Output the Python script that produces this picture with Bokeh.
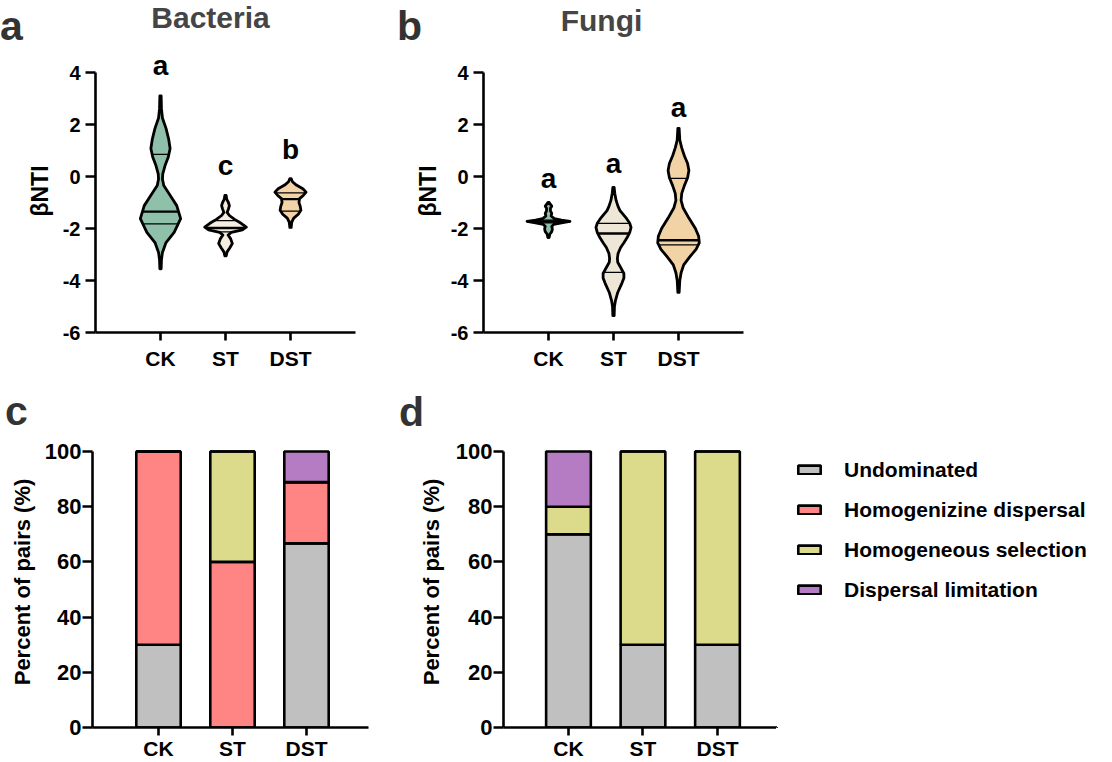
import numpy as np
from bokeh.plotting import figure
from bokeh.models import FixedTicker, Legend, LegendItem, ColumnDataSource, Range1d
from bokeh.layouts import column, row
from bokeh.embed import file_html
from bokeh.resources import INLINE
from bokeh.core.properties import value

FONT = "Liberation Sans"

# ---------------- data ----------------
groups = ["CK", "ST", "DST"]
group_x = [1, 2, 3]

# violin outlines: y levels (βNTI) and half-widths
bac_ck_y = [3.1, 2.6, 2.25, 1.85, 1.45, 1.08, 0.75, 0.42, 0.1, -0.1, -0.35, -0.73, -1.12, -1.62, -2.15, -2.54, -2.92, -3.2, -3.55]
bac_ck_w = [0.01, 0.015, 0.03, 0.085, 0.125, 0.148, 0.12, 0.07, 0.035, 0.03, 0.05, 0.15, 0.25, 0.31, 0.21, 0.085, 0.03, 0.015, 0.01]
bac_st_y = [-0.73, -0.88, -1.0, -1.12, -1.25, -1.38, -1.5, -1.65, -1.8, -1.95, -2.05, -2.15, -2.25, -2.4, -2.58, -2.75, -2.9, -3.05]
bac_st_w = [0.01, 0.02, 0.045, 0.06, 0.045, 0.025, 0.06, 0.14, 0.24, 0.32, 0.26, 0.09, 0.04, 0.08, 0.105, 0.065, 0.025, 0.01]
bac_dst_y = [-0.08, -0.2, -0.33, -0.47, -0.6, -0.72, -0.85, -1.0, -1.15, -1.3, -1.45, -1.6, -1.75, -1.96]
bac_dst_w = [0.01, 0.03, 0.09, 0.19, 0.24, 0.2, 0.14, 0.13, 0.15, 0.16, 0.12, 0.05, 0.02, 0.01]
fun_ck_y = [-1.0, -1.07, -1.14, -1.22, -1.32, -1.42, -1.52, -1.62, -1.68, -1.73, -1.78, -1.84, -1.92, -2.02, -2.12, -2.22, -2.35]
fun_ck_w = [0.01, 0.03, 0.05, 0.03, 0.03, 0.05, 0.04, 0.09, 0.2, 0.33, 0.2, 0.08, 0.05, 0.06, 0.05, 0.02, 0.01]
fun_st_y = [-0.42, -0.65, -0.92, -1.15, -1.31, -1.58, -1.8, -1.96, -2.15, -2.35, -2.55, -2.73, -2.96, -3.15, -3.3, -3.5, -3.73, -3.9, -4.1, -4.46, -4.77, -5.0, -5.35]
fun_st_w = [0.01, 0.02, 0.04, 0.07, 0.1, 0.19, 0.25, 0.27, 0.25, 0.21, 0.16, 0.11, 0.07, 0.06, 0.065, 0.11, 0.16, 0.16, 0.13, 0.065, 0.03, 0.015, 0.01]
fun_dst_y = [1.85, 1.4, 1.1, 0.8, 0.5, 0.23, -0.05, -0.35, -0.65, -0.92, -1.2, -1.6, -2.0, -2.3, -2.55, -2.8, -3.1, -3.4, -3.7, -4.0, -4.46]
fun_dst_w = [0.01, 0.02, 0.05, 0.09, 0.14, 0.16, 0.14, 0.09, 0.05, 0.04, 0.07, 0.16, 0.26, 0.31, 0.32, 0.27, 0.17, 0.08, 0.04, 0.02, 0.01]

# quartile lines: upper quartile, median, lower quartile
bac_ck_q = [0.85, -1.35, -1.82]
bac_st_q = [-1.70, -1.98, -2.13]
bac_dst_q = [-0.63, -0.87, -1.33]
fun_ck_q = [-1.68, -1.73, -1.78]
fun_st_q = [-1.80, -2.19, -3.69]
fun_dst_q = [-0.07, -2.45, -2.63]

# significance letters (baseline heights in βNTI units)
bac_sig = ["a", "c", "b"]
fun_sig = ["a", "a", "a"]
bac_sig_y = [3.9, 0.04, 0.69]
fun_sig_y = [-0.46, 0.12, 2.27]

# stacked bars (percent of pairs)
bar_names = ["Undominated", "Homogenizine dispersal", "Homogeneous selection", "Dispersal limitation"]
bac_undom = [30.0, 0.0, 66.7]
bac_hdisp = [70.0, 60.0, 22.2]
bac_hsel = [0.0, 40.0, 0.0]
bac_dlim = [0.0, 0.0, 11.1]
fun_undom = [70.0, 30.0, 30.0]
fun_hdisp = [0.0, 0.0, 0.0]
fun_hsel = [10.0, 70.0, 70.0]
fun_dlim = [20.0, 0.0, 0.0]

# headings
top_text = ["a", "Bacteria", "b", "Fungi"]
bottom_text = ["c", "d"]

bar_colors = ["#C0C0C0", "#FF8585", "#DCDA8B", "#B67CC3"]
green = "#8FC1AA"
bac_fill = [green, "#F5EDE0", "#F2D4A8"]
fun_fill = [green, "#EEE6D6", "#F1D3A6"]

tick_over = {1: "CK", 2: "ST", 3: "DST"}
MID = 0.34  # distance from the alphabetic baseline up to the text middle, in em


def bare(p):
    p.grid.visible = False
    p.outline_line_color = None
    p.background_fill_color = "white"
    p.border_fill_color = "white"


def style(p, ytick_size, xtick_size, yl_size):
    bare(p)
    for ax in (p.xaxis[0], p.yaxis[0]):
        ax.axis_line_width = 2.6
        ax.axis_line_color = "black"
        ax.major_tick_line_width = 2.6
        ax.major_tick_line_color = "black"
        ax.major_tick_in = 0
        ax.minor_tick_line_color = None
        ax.major_label_text_font = FONT
        ax.major_label_text_font_style = "bold"
        ax.major_label_text_color = "black"
        ax.axis_label_text_font = FONT
        ax.axis_label_text_font_style = "bold"
        ax.axis_label_text_color = "black"
    p.yaxis[0].major_label_text_font_size = ytick_size
    p.xaxis[0].major_label_text_font_size = xtick_size
    p.yaxis[0].axis_label_text_font_size = yl_size
    p.xaxis[0].ticker = FixedTicker(ticks=group_x)
    p.xaxis[0].major_label_overrides = tick_over


def violin(p, cx, ys, ws, fill, qs):
    ys = np.asarray(ys, dtype=float)
    ws = np.asarray(ws, dtype=float)
    xs = np.concatenate([cx + ws, (cx - ws)[::-1]])
    yy = np.concatenate([ys, ys[::-1]])
    p.patch(xs, yy, fill_color=fill, line_color="black", line_width=2.8, line_join="round")
    order = np.argsort(ys)
    for i, q in enumerate(qs):
        hw = np.interp(q, ys[order], ws[order])
        p.segment(cx - hw, q, cx + hw, q, line_color="black",
                  line_width=2.4 if i == 1 else 1.3)


def violin_fig(width, left, right, profiles, fills, quarts, sig, sig_y):
    p = figure(width=width, height=329, x_range=(0, 4), y_range=(-6, -6 + 283 / 26),
               output_backend="svg", toolbar_location=None,
               min_border_left=left, min_border_right=right, min_border_top=0, min_border_bottom=46)
    style(p, "20px", "21px", "23px")
    p.yaxis[0].ticker = FixedTicker(ticks=[-6, -4, -2, 0, 2, 4])
    p.yaxis[0].major_label_overrides = {-6: "-6", -4: "-4", -2: "-2", 0: "0", 2: "2", 4: "4"}
    p.yaxis[0].bounds = (-6, 4)
    p.yaxis[0].major_tick_out = 10
    p.yaxis[0].major_label_standoff = 5
    p.yaxis[0].axis_label = "βNTI"
    p.yaxis[0].axis_label_standoff = 7
    p.xaxis[0].major_tick_out = 8
    p.xaxis[0].major_label_standoff = 6
    for cx, (ys, ws), f, q in zip(group_x, profiles, fills, quarts):
        violin(p, cx, ys, ws, f, q)
    shift = MID * 28 / 26
    p.text(x=group_x, y=[v + shift for v in sig_y], text=sig, text_font=value(FONT),
           text_font_style="bold", text_font_size="28px", text_align="center",
           text_baseline="middle", text_color="black")
    return p


pa = violin_fig(388, 95, 33,
                [(bac_ck_y, bac_ck_w), (bac_st_y, bac_st_w), (bac_dst_y, bac_dst_w)],
                bac_fill, [bac_ck_q, bac_st_q, bac_dst_q], bac_sig, bac_sig_y)
pb = violin_fig(380, 95, 25,
                [(fun_ck_y, fun_ck_w), (fun_st_y, fun_st_w), (fun_dst_y, fun_dst_w)],
                fun_fill, [fun_ck_q, fun_st_q, fun_dst_q], fun_sig, fun_sig_y)


def strip(height, xs, ys, texts, sizes, colors):
    s = figure(width=1112, height=height, x_range=(0, 1112), y_range=Range1d(height, 0),
               output_backend="svg", toolbar_location=None,
               x_axis_location=None, y_axis_location=None, min_border=0)
    bare(s)
    ys_mid = [y - MID * sz for y, sz in zip(ys, sizes)]
    s.text(x=xs, y=ys_mid, text=texts, text_font=value(FONT), text_font_style="bold",
           text_font_size=[f"{sz}px" for sz in sizes], text_color=colors,
           text_align="center", text_baseline="middle")
    return s


s1 = strip(49, [11, 210, 409, 601], [39.5, 27.5, 39.5, 30], top_text,
           [41, 30, 41, 30], ["#333333", "#454545", "#333333", "#454545"])
s2 = strip(58, [16, 411], [46, 47], bottom_text, [41, 41], ["#333333", "#333333"])


def bar_fig(width, left, right, xr, cols, ylab_standoff):
    p = figure(width=width, height=326, x_range=xr, y_range=(0, 291 / 2.76),
               output_backend="svg", toolbar_location=None,
               min_border_left=left, min_border_right=right, min_border_top=0, min_border_bottom=35)
    style(p, "22px", "21px", "22px")
    p.yaxis[0].ticker = FixedTicker(ticks=[0, 20, 40, 60, 80, 100])
    p.yaxis[0].bounds = (0, 100)
    p.yaxis[0].major_tick_out = 10
    p.yaxis[0].major_label_standoff = 1
    p.yaxis[0].axis_label = "Percent of pairs (%)"
    p.yaxis[0].axis_label_standoff = ylab_standoff
    p.xaxis[0].major_tick_out = 8
    p.xaxis[0].major_label_standoff = 1
    src = ColumnDataSource(dict(x=group_x, u=cols[0], h=cols[1], s=cols[2], d=cols[3]))
    p.vbar_stack(["u", "h", "s", "d"], x="x", width=0.6, source=src,
                 fill_color=bar_colors, line_color="black", line_width=2.6)
    return p


pc = bar_fig(400, 92, 32, (0.108, 3.838), [bac_undom, bac_hdisp, bac_hsel, bac_dlim], 7)
pd_ = bar_fig(376, 103, 0, (0.128, 3.792), [fun_undom, fun_hdisp, fun_hsel, fun_dlim], 9)

# legend panel: one off-screen key bar per category so that each swatch has its style
pl = figure(width=336, height=326, x_range=(0, 1), y_range=(0, 1),
            output_backend="svg", toolbar_location=None,
            x_axis_location=None, y_axis_location=None, min_border=0)
bare(pl)
items = []
for name, col in zip(bar_names, bar_colors):
    r = pl.vbar(x=[-5], top=[-5], bottom=[-6], width=0.5, fill_color=col,
                line_color="black", line_width=2.6)
    items.append(LegendItem(label=name, renderers=[r]))
legend = Legend(items=items, location=(19, 125), margin=0, padding=0, spacing=15,
                glyph_width=28, glyph_height=11, label_standoff=21, label_height=25,
                label_text_font=FONT, label_text_font_style="bold", label_text_font_size="21px",
                label_text_color="black", border_line_color=None, background_fill_alpha=0)
pl.add_layout(legend)

layout = column(s1, row(pa, pb), s2, row(pc, pd_, pl))
open("out.html", "w").write(file_html(layout, INLINE))
